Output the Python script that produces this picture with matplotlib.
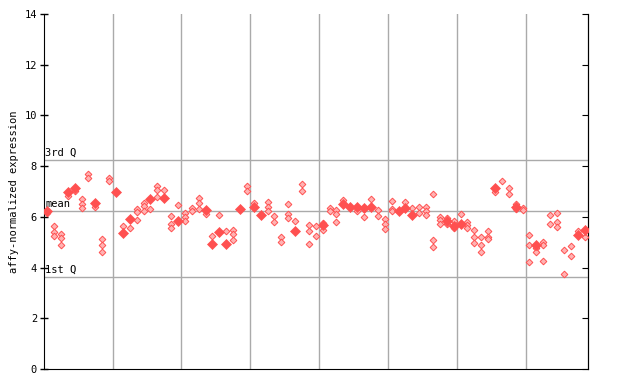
import numpy as np
import matplotlib
matplotlib.use("Agg")
import matplotlib.pyplot as plt
import matplotlib.transforms as mtransforms

# values per sample; solid = overlapping replicates
open_vals = [
    [6.15], [5.64, 5.39, 5.26], [5.31, 5.15, 4.89], [6.83], [7.02],
    [6.70, 6.51, 6.34], [7.70, 7.52], [6.38], [5.11, 4.89, 4.63], [7.52, 7.43],
    [], [5.64], [5.56], [6.30, 6.20, 5.88], [6.56, 6.44, 6.24],
    [6.30], [7.20, 7.05, 6.78], [7.06], [6.03, 5.71, 5.55], [6.45],
    [6.14, 6.01, 5.82], [6.36, 6.24], [6.73, 6.53, 6.30], [6.12], [5.23],
    [6.09], [5.43], [5.47, 5.31, 5.07], [], [7.20, 7.01],
    [6.53], [], [6.57, 6.40, 6.24], [6.03, 5.81], [5.20, 5.02],
    [6.49, 6.12, 5.94], [5.83], [7.28, 7.01], [5.68, 5.43, 4.93], [5.63, 5.26],
    [5.74, 5.49], [6.34, 6.24], [6.26, 6.10, 5.78], [6.66], [],
    [6.24], [6.01], [6.70], [6.27, 6.03], [5.90, 5.72, 5.52],
    [6.61, 6.30, 6.22], [], [6.57], [6.35], [6.39, 6.14],
    [6.39, 6.22, 6.06], [6.90, 5.07, 4.80], [5.99, 5.86, 5.73], [5.94, 5.73], [5.83, 5.57],
    [6.10], [5.81, 5.68, 5.57], [5.49, 5.19, 4.96], [5.19, 4.89, 4.60], [5.43, 5.19, 5.11],
    [6.99], [7.41], [7.12, 6.89], [6.52, 6.30], [6.34, 6.28],
    [5.28, 4.89, 4.22], [4.77, 4.63], [5.01, 4.89, 4.24], [6.07, 5.72], [6.14, 5.81, 5.61],
    [4.69, 3.73], [4.85, 4.44], [5.43], [5.22],
]
solid_vals = [
    [6.24], [], [], [6.99], [7.15], [], [], [6.56], [], [],
    [6.98], [5.38], [5.93], [], [], [6.69], [], [6.73], [], [5.85],
    [], [], [], [6.27], [4.93], [5.40], [4.94], [], [6.30], [],
    [6.40], [6.07], [], [], [], [], [5.43], [], [], [],
    [5.68], [], [], [6.51], [6.38], [6.40], [6.34], [6.38], [], [],
    [], [6.23], [6.34], [6.09], [], [], [], [], [5.83], [5.65],
    [5.73], [], [], [], [], [7.15], [], [], [6.40], [],
    [], [4.88], [], [], [], [], [], [5.28], [5.49],
]
group_size = 10
q1, mean_val, q3 = 3.63, 6.23, 8.24
ref_labels = ["1st Q", "mean", "3rd Q"]

n = len(open_vals)
red = "#ff5050"

fig = plt.figure(figsize=(6.4, 3.84), dpi=100)
ax = fig.add_axes([44/640, 15/384, 544/640, 355/384])

ox, oy, sx, sy = [], [], [], []
for i in range(n):
    for v in open_vals[i]:
        ox.append(i); oy.append(v)
    for v in solid_vals[i]:
        sx.append(i); sy.append(v)

ax.plot(ox, oy, ls="none", marker="D", ms=3.4, mfc="#ffb3b3", mec=red, mew=0.7, zorder=3)
ax.plot(sx, sy, ls="none", marker="D", ms=4.6, mfc=red, mec=red, mew=0.5, zorder=4)

# group separators
for b in range(group_size, n, group_size):
    ax.axvline(b - 0.5, color="#aaaaaa", lw=1, zorder=1)

trans = mtransforms.blended_transform_factory(ax.transAxes, ax.transData)
for val, lab in zip([q1, mean_val, q3], ref_labels):
    ax.axhline(val, color="#aaaaaa", lw=1, zorder=1)
    ax.text(0.002, val + 0.08, lab, transform=trans, ha="left", va="bottom",
            fontsize=7.5, family="DejaVu Sans Mono")

ax.set_xlim(-0.45, n - 0.5)
ax.set_ylim(0, 14)
ax.set_yticks(range(0, 15, 2))
ax.set_xticks([])
ax.tick_params(axis="y", direction="inout", length=6, width=1, labelsize=7.5, pad=2)
for t in ax.get_yticklabels():
    t.set_family("DejaVu Sans Mono")

sec = ax.secondary_yaxis("right")
sec.set_yticks(range(0, 15, 2))
sec.tick_params(direction="in", length=4, labelright=False)

ax.spines["top"].set_visible(False)
sec.spines["right"].set_visible(True)
ax.set_ylabel("affy-normalized expression", fontsize=7.5, family="DejaVu Sans Mono", labelpad=4)

fig.savefig("out.png", dpi=100)
